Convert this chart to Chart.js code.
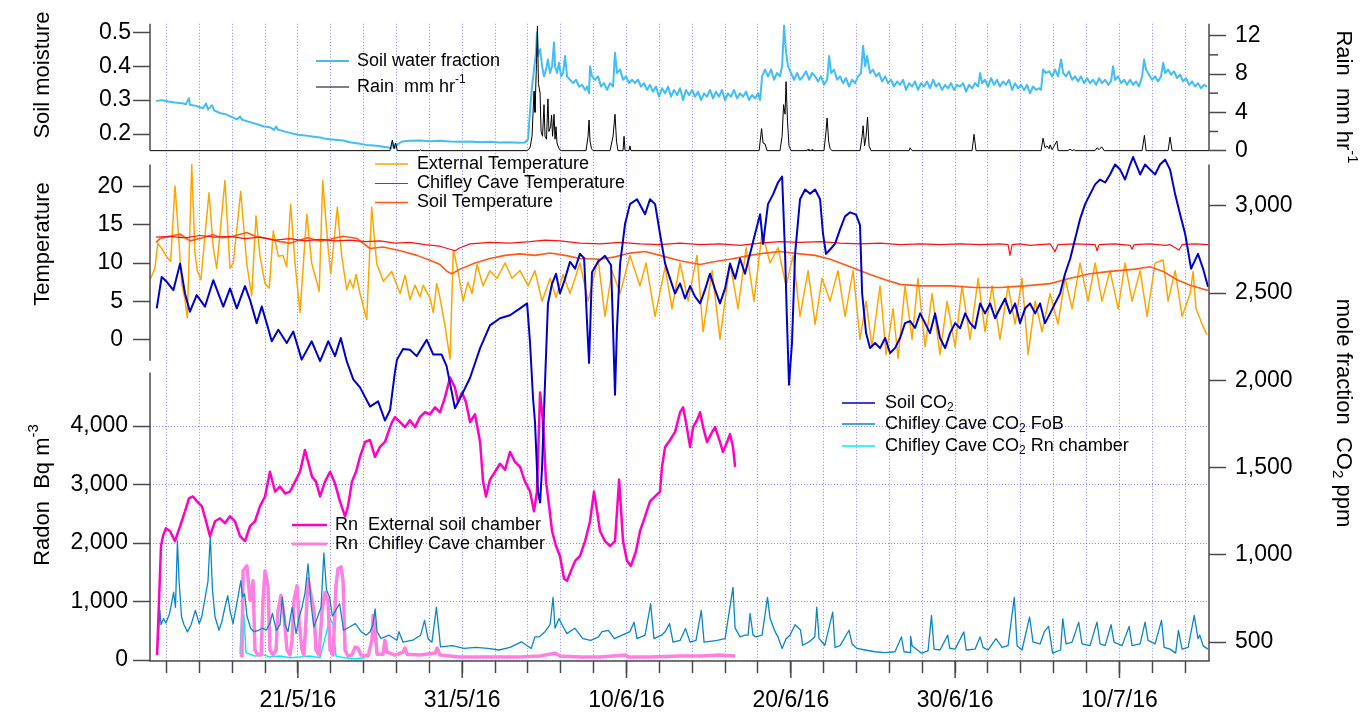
<!DOCTYPE html>
<html>
<head>
<meta charset="utf-8">
<script src="https://cdn.jsdelivr.net/npm/chart.js@4.4.0/dist/chart.umd.min.js"></script>
<style>
  html, body { margin: 0; padding: 0; background: #fff; }
  #wrap { width: 1372px; height: 715px; position: relative; }
</style>
</head>
<body>
<div id="wrap"><canvas id="c" width="1372" height="715"></canvas></div>
<script>
// ---- time base: x values are days since 12/5/16 00:00 ----
const startDate = [2016, 4, 12];
const labelDays = [9, 19, 29, 39, 49, 59];          // 21/5, 31/5, 10/6, 20/6, 30/6, 10/7
const xRange = [0, 64.45];

// ---- tick values ----
const soilTicks = [0.2, 0.3, 0.4, 0.5];
const rainTicks = [0, 4, 8, 12];
const rainMinorTicks = [2, 6, 10];
const tempTicks = [0, 5, 10, 15, 20];
const radonTicks = [0, 1000, 2000, 3000, 4000];
const co2Ticks = [500, 1000, 1500, 2000, 2500, 3000];

// ---- series: [day, value] ----
const soilWater = [[0.37,.297],[0.73,.300],[1.10,.296],[1.52,.293],[1.95,.291],[2.19,.288],[2.37,.306],[2.43,.286],[2.80,.283],[3.23,.276],[3.41,.290],[3.53,.272],[3.77,.285],[3.90,.270],[4.26,.262],[4.63,.258],[4.99,.250],[5.29,.243],[5.48,.252],[5.60,.242],[6.09,.235],[6.57,.228],[6.94,.222],[7.30,.220],[7.55,.212],[7.67,.222],[7.79,.213],[8.22,.207],[8.64,.202],[9.01,.198],[9.43,.196],[9.86,.193],[10.35,.190],[10.77,.185],[11.26,.183],[11.75,.181],[12.17,.176],[12.66,.172],[13.15,.168],[13.63,.166],[14.12,.163],[14.49,.160],[14.67,.158],[14.79,.172],[14.91,.160],[15.09,.170],[15.34,.178],[15.82,.180],[16.43,.181],[17.04,.179],[17.65,.180],[18.26,.178],[18.87,.177],[19.48,.178],[20.09,.176],[20.69,.177],[21.30,.175],[21.91,.176],[22.40,.174],[22.82,.175],[23.01,.185],[23.13,.27],[23.25,.34],[23.37,.39],[23.49,.44],[23.55,.50],[23.61,.43],[23.74,.45],[23.86,.40],[23.98,.37],[24.10,.39],[24.22,.42],[24.35,.38],[24.47,.40],[24.59,.47],[24.65,.40],[24.77,.38],[24.89,.41],[25.02,.37],[25.14,.38],[25.26,.43],[25.38,.37],[25.56,.36],[25.75,.35],[25.93,.36],[26.11,.34],[26.29,.345],[26.48,.33],[26.60,.34],[26.72,.32],[26.78,.40],[26.90,.37],[27.08,.36],[27.27,.37],[27.45,.34],[27.63,.35],[27.82,.33],[28.00,.35],[28.18,.34],[28.30,.44],[28.42,.38],[28.61,.39],[28.79,.36],[28.97,.37],[29.15,.35],[29.34,.36],[29.52,.35],[29.70,.36],[29.88,.34],[30.07,.35],[30.25,.33],[30.43,.345],[30.61,.325],[30.80,.34],[30.98,.31],[31.16,.335],[31.35,.32],[31.53,.34],[31.71,.31],[31.89,.33],[32.08,.315],[32.26,.335],[32.44,.30],[32.62,.33],[32.81,.315],[32.99,.33],[33.17,.31],[33.35,.325],[33.54,.30],[33.72,.32],[33.90,.31],[34.08,.33],[34.27,.305],[34.45,.325],[34.63,.31],[34.81,.33],[35.00,.30],[35.18,.32],[35.36,.31],[35.54,.33],[35.73,.305],[35.91,.32],[36.09,.31],[36.28,.325],[36.46,.30],[36.64,.315],[36.82,.305],[37.01,.32],[37.13,.30],[37.25,.37],[37.43,.39],[37.61,.37],[37.80,.39],[37.98,.36],[38.16,.38],[38.34,.37],[38.47,.40],[38.59,.52],[38.71,.44],[38.83,.40],[39.01,.38],[39.20,.36],[39.38,.38],[39.56,.36],[39.74,.37],[39.93,.385],[40.11,.36],[40.29,.38],[40.48,.37],[40.66,.355],[40.84,.37],[41.02,.345],[41.21,.36],[41.33,.43],[41.45,.38],[41.63,.39],[41.81,.36],[42.00,.37],[42.18,.35],[42.36,.365],[42.54,.34],[42.73,.36],[42.91,.35],[43.09,.37],[43.27,.38],[43.40,.46],[43.52,.40],[43.64,.43],[43.82,.38],[44.00,.39],[44.19,.37],[44.37,.38],[44.55,.355],[44.74,.37],[44.92,.35],[45.10,.36],[45.28,.34],[45.47,.355],[45.65,.345],[45.83,.36],[46.01,.33],[46.20,.35],[46.38,.34],[46.56,.355],[46.74,.33],[46.93,.35],[47.11,.34],[47.29,.355],[47.47,.335],[47.66,.36],[47.84,.34],[48.02,.35],[48.20,.33],[48.39,.345],[48.57,.335],[48.75,.35],[48.93,.33],[49.12,.345],[49.30,.34],[49.48,.35],[49.67,.325],[49.85,.345],[50.03,.335],[50.21,.35],[50.40,.34],[50.52,.38],[50.64,.35],[50.82,.36],[51.00,.34],[51.19,.365],[51.37,.345],[51.55,.36],[51.73,.34],[51.92,.355],[52.10,.345],[52.28,.36],[52.47,.33],[52.65,.35],[52.83,.335],[53.01,.345],[53.20,.33],[53.38,.345],[53.56,.32],[53.74,.34],[53.93,.33],[54.11,.335],[54.23,.33],[54.35,.39],[54.53,.38],[54.72,.385],[54.90,.37],[55.08,.39],[55.26,.37],[55.45,.42],[55.57,.38],[55.75,.37],[55.93,.385],[56.12,.36],[56.30,.37],[56.48,.355],[56.66,.37],[56.85,.35],[57.03,.365],[57.21,.35],[57.39,.36],[57.58,.345],[57.76,.365],[57.94,.35],[58.13,.36],[58.31,.345],[58.49,.355],[58.61,.40],[58.73,.36],[58.92,.37],[59.10,.35],[59.28,.36],[59.46,.345],[59.65,.36],[59.83,.345],[60.01,.355],[60.19,.34],[60.38,.37],[60.50,.42],[60.62,.39],[60.80,.375],[60.99,.36],[61.17,.37],[61.35,.355],[61.53,.37],[61.66,.41],[61.78,.38],[61.96,.39],[62.14,.375],[62.32,.385],[62.51,.365],[62.69,.375],[62.87,.355],[63.05,.365],[63.24,.345],[63.42,.355],[63.60,.34],[63.78,.35],[63.97,.335],[64.15,.345],[64.33,.34]];

const rain = [[0,0],[14.6,0],[14.75,1.1],[14.85,0.2],[14.95,0.8],[15.05,0],[16.4,0],[16.45,0.1],[16.5,0],[22.95,0],[23.13,0.3],[23.25,1.5],[23.37,6.2],[23.43,4],[23.52,9],[23.58,13.0],[23.64,7],[23.74,6.0],[23.80,2],[23.89,1.5],[23.98,4.8],[24.04,1.5],[24.13,1.2],[24.22,5.4],[24.28,2.0],[24.38,2.5],[24.44,3.7],[24.50,1.5],[24.59,3.8],[24.65,1.2],[24.71,2.5],[24.77,0.8],[24.89,0.2],[25.02,0],[26.54,0],[26.66,1.5],[26.72,3.2],[26.78,1.0],[26.87,0.2],[26.96,0],[28.0,0],[28.18,1.5],[28.30,3.8],[28.39,1.0],[28.48,0],[28.79,0],[28.85,1.5],[28.91,0],[29.15,0],[29.21,0.5],[29.27,0],[37.07,0],[37.22,2.3],[37.31,0.8],[37.43,0.7],[37.55,0],[38.34,0],[38.47,1.5],[38.56,4.8],[38.65,3.8],[38.71,7.2],[38.80,3],[38.89,0.5],[39.01,0],[40.0,0],[40.05,0.15],[40.1,0],[40.25,0],[40.29,0.12],[40.33,0],[41.02,0],[41.14,2.0],[41.21,3.4],[41.30,1.0],[41.39,0.2],[41.51,0],[43.21,0],[43.34,1.5],[43.40,2.6],[43.49,0.5],[43.58,1.5],[43.67,3.5],[43.76,0.5],[43.88,0],[46.20,0],[46.26,0.3],[46.38,0],[50.03,0],[50.15,1.7],[50.27,0],[54.23,0],[54.35,1.3],[54.47,0.3],[54.59,0.5],[54.72,0.2],[54.78,0.6],[54.90,0.1],[55.19,1.0],[55.27,0],[55.87,0],[55.99,0.15],[56.12,0],[56.24,0.1],[56.3,0],[57.52,0],[57.64,0.3],[57.76,0.1],[57.92,0.4],[58.07,0],[60.38,0],[60.52,1.6],[60.62,0],[61.96,0],[62.08,1.4],[62.20,0],[64.45,0]];

const extTemp = [[0,7.8],[0.30,9.3],[0.47,12.6],[0.71,11.9],[1.02,10.8],[1.26,10.2],[1.52,20.1],[1.72,14.2],[1.93,7.3],[2.13,5.2],[2.27,2.8],[2.54,22.9],[2.74,11.2],[2.88,9.0],[3.10,7.8],[3.59,19.2],[3.85,12.0],[4.06,9.3],[4.56,20.8],[4.87,9.3],[5.07,10.0],[5.52,19.4],[5.89,9.9],[6.19,5.7],[6.45,16.2],[6.70,10.8],[7.00,7.3],[7.26,6.7],[7.50,14.2],[7.81,10.9],[8.09,11.0],[8.32,9.5],[8.56,17.7],[8.83,9.9],[9.13,3.5],[9.54,16.4],[9.84,10.0],[10.30,6.3],[10.51,20.8],[10.85,11.7],[11.00,8.6],[11.40,17.3],[11.67,10.9],[11.97,6.5],[12.17,7.8],[12.37,6.7],[12.54,8.5],[12.78,6.0],[13.19,2.6],[13.49,17.3],[13.80,9.9],[14.20,7.6],[14.71,8.9],[15.22,6.0],[15.52,8.4],[15.82,5.2],[16.13,7.1],[16.43,5.6],[16.63,7.1],[17.04,5.4],[17.24,3.5],[17.45,7.3],[17.65,5.4],[17.95,1.8],[18.26,-2.6],[18.46,11.7],[18.76,8.8],[19.05,5.0],[19.35,7.5],[19.60,6.0],[19.90,9.8],[20.27,7.0],[20.69,9.0],[21.12,8.0],[21.61,10.0],[22.03,8.0],[22.52,9.0],[23.01,7.0],[23.43,9.0],[23.86,5.0],[24.35,8.0],[24.71,5.5],[25.14,8.5],[25.56,6.0],[26.17,10.0],[26.66,5.0],[27.27,10.5],[27.69,3.0],[28.12,9.0],[28.61,6.0],[29.21,11.0],[29.82,7.0],[30.19,10.0],[30.74,3.0],[31.35,9.5],[31.77,4.0],[32.26,10.0],[32.75,5.0],[33.29,11.0],[33.66,1.0],[34.21,9.0],[34.69,0.0],[35.30,10.0],[35.79,4.0],[36.28,12.0],[36.76,5.0],[37.25,14.0],[37.74,10.0],[38.22,12.0],[38.71,7.0],[39.14,11.0],[39.56,3.0],[40.05,9.0],[40.48,2.0],[40.90,8.0],[41.39,5.0],[41.87,9.0],[42.30,3.0],[42.79,9.0],[43.21,0.0],[43.58,5.0],[43.94,-1.0],[44.43,7.0],[44.80,-2.0],[45.22,4.0],[45.53,-2.5],[45.95,7.0],[46.38,0.0],[46.74,8.0],[47.17,-1.0],[47.60,6.0],[48.08,-2.0],[48.51,5.0],[49.00,-1.0],[49.42,7.0],[49.91,0.0],[50.40,8.0],[50.82,1.0],[51.25,7.0],[51.73,0.0],[52.22,7.0],[52.65,2.0],[53.07,8.0],[53.44,-2.0],[53.87,5.0],[54.29,1.0],[54.78,6.0],[55.26,2.0],[55.69,8.0],[56.12,4.0],[56.60,10.0],[57.09,5.0],[57.52,10.0],[57.94,5.0],[58.43,9.0],[58.92,4.0],[59.34,10.0],[59.77,5.0],[60.26,9.0],[60.68,3.0],[61.17,10.0],[61.66,10.4],[61.96,5.0],[62.39,9.0],[62.81,3.0],[63.30,6.0],[63.48,8.9],[63.66,4.0],[64.03,2.0],[64.33,0.6]];

const caveTemp = [[0.37,13.4],[1.22,13.5],[2.13,13.3],[3.04,13.6],[3.96,13.4],[4.87,13.5],[5.78,13.2],[6.69,13.4],[7.61,13.0],[8.52,13.2],[9.43,12.9],[10.35,13.1],[11.26,12.9],[12.17,13.0],[13.09,12.8],[14.00,12.9],[14.91,12.6],[15.82,12.7],[16.74,12.4],[17.65,12.2],[18.26,11.8],[18.56,11.6],[18.87,12.0],[19.48,12.5],[20.69,12.7],[21.91,12.6],[23.13,12.8],[24.04,13.0],[24.95,12.9],[26.17,12.6],[27.39,12.5],[28.61,12.7],[29.82,12.5],[31.04,12.4],[32.26,12.6],[33.48,12.4],[34.69,12.5],[35.91,12.3],[37.13,12.6],[38.34,12.8],[39.56,12.7],[40.78,12.8],[42.00,12.6],[43.21,12.5],[44.43,12.6],[45.65,12.4],[46.87,12.5],[48.08,12.4],[49.30,12.5],[50.52,12.4],[51.73,12.5],[52.22,12.4],[52.34,11.0],[52.47,12.4],[52.95,12.5],[53.56,12.3],[54.78,12.5],[55.08,11.5],[55.26,12.4],[56.30,12.5],[57.52,12.4],[57.64,11.6],[57.76,12.4],[58.73,12.5],[59.65,12.3],[59.77,11.8],[59.89,12.4],[60.86,12.5],[61.78,12.3],[62.08,12.4],[62.63,11.7],[62.81,12.4],[63.60,12.5],[64.39,12.4]];

const soilTemp = [[0.37,12.7],[0.61,13.2],[1.03,13.4],[1.83,13.8],[2.43,12.9],[3.04,13.2],[3.83,13.7],[4.38,13.3],[4.87,13.4],[5.90,14.0],[6.39,13.5],[7.12,13.2],[7.91,12.8],[8.52,12.6],[9.56,13.3],[10.35,12.9],[10.96,13.1],[11.75,13.5],[12.60,13.2],[13.39,11.9],[14.18,12.1],[15.22,11.6],[16.25,11.0],[17.22,10.2],[17.65,9.8],[18.08,8.9],[18.38,8.6],[18.87,9.2],[19.78,10.0],[20.69,10.6],[21.61,11.0],[22.52,11.2],[23.43,11.0],[24.35,11.3],[25.26,11.0],[26.17,10.6],[27.39,10.5],[28.30,10.8],[29.21,11.3],[30.13,11.5],[31.04,11.0],[32.26,10.3],[33.48,9.8],[34.39,10.2],[35.30,10.5],[36.52,11.0],[37.43,11.3],[38.34,11.5],[39.56,11.2],[40.48,11.0],[41.39,10.5],[42.61,9.5],[43.82,8.5],[44.74,7.8],[45.65,7.2],[46.87,7.0],[48.69,7.0],[50.21,6.8],[51.73,6.8],[53.26,7.0],[54.78,7.3],[56.00,8.0],[57.21,8.6],[58.43,8.9],[59.95,9.2],[60.86,9.5],[61.66,8.9],[62.51,7.8],[63.30,7.1],[64.39,6.4]];

const soilCO2 = [[0.41,2413],[0.71,2593],[1.02,2565],[1.42,2517],[1.83,2669],[2.13,2498],[2.43,2394],[2.84,2489],[3.35,2423],[3.85,2574],[4.46,2423],[4.87,2527],[5.28,2413],[5.78,2540],[6.09,2460],[6.49,2328],[6.80,2423],[7.10,2328],[7.41,2224],[7.81,2290],[8.32,2214],[8.72,2280],[9.23,2119],[9.84,2224],[10.35,2110],[10.85,2224],[11.26,2139],[11.61,2243],[11.97,2110],[12.37,2006],[12.78,1960],[13.39,1850],[13.88,1880],[14.30,1770],[14.61,1830],[14.91,2050],[15.03,2119],[15.40,2180],[15.82,2176],[16.23,2139],[16.84,2233],[17.24,2148],[17.75,2148],[18.05,2082],[18.56,1840],[18.99,1920],[19.48,2015],[20.09,2185],[20.69,2315],[21.30,2356],[21.91,2373],[22.52,2413],[22.95,2441],[23.13,2214],[23.31,1900],[23.43,1761],[23.61,1362],[23.74,1300],[23.86,1500],[24.04,1986],[24.22,2441],[24.47,2555],[24.71,2611],[24.95,2498],[25.26,2583],[25.56,2680],[25.87,2640],[26.17,2725],[26.42,2700],[26.60,2328],[26.72,2100],[26.90,2620],[27.27,2680],[27.69,2714],[28.06,2660],[28.18,2300],[28.30,1918],[28.42,2300],[28.61,2669],[28.91,2896],[29.21,3010],[29.64,3038],[30.13,2952],[30.43,3038],[30.74,3010],[31.04,2839],[31.35,2669],[31.65,2583],[31.95,2498],[32.26,2555],[32.56,2469],[32.87,2540],[33.17,2480],[33.48,2441],[33.78,2520],[34.08,2611],[34.39,2520],[34.69,2441],[35.00,2527],[35.30,2669],[35.61,2583],[35.91,2697],[36.21,2611],[36.52,2725],[36.82,2839],[37.13,2952],[37.31,2782],[37.61,3010],[37.92,3066],[38.22,3134],[38.47,3168],[38.65,2725],[38.77,2328],[38.89,1975],[39.07,2214],[39.26,2725],[39.56,3038],[39.87,3094],[40.17,3070],[40.48,3094],[40.78,3038],[40.96,2839],[41.14,2725],[41.39,2750],[41.69,2782],[42.00,2867],[42.30,2940],[42.61,2963],[42.97,2950],[43.21,2890],[43.34,2498],[43.58,2271],[43.82,2185],[44.13,2214],[44.43,2185],[44.74,2243],[45.04,2157],[45.34,2185],[45.65,2243],[45.95,2328],[46.26,2340],[46.56,2300],[46.87,2384],[47.17,2328],[47.47,2271],[47.78,2384],[48.08,2243],[48.39,2185],[48.69,2271],[49.00,2328],[49.30,2299],[49.61,2384],[49.91,2328],[50.21,2299],[50.52,2441],[50.82,2384],[51.13,2441],[51.43,2356],[51.73,2413],[52.04,2469],[52.34,2384],[52.65,2441],[52.95,2328],[53.26,2413],[53.56,2441],[53.87,2384],[54.17,2441],[54.47,2328],[54.78,2384],[55.08,2441],[55.39,2498],[55.69,2611],[56.00,2697],[56.30,2810],[56.60,2924],[56.91,3010],[57.21,3066],[57.52,3123],[57.82,3151],[58.13,3134],[58.43,3180],[58.73,3237],[59.04,3208],[59.34,3151],[59.65,3237],[59.83,3280],[60.26,3180],[60.56,3237],[60.86,3208],[61.17,3180],[61.47,3237],[61.78,3265],[62.08,3208],[62.39,3066],[62.69,2952],[63.00,2839],[63.36,2640],[63.78,2725],[64.09,2640],[64.39,2537]];

const caveCO2FoB = [[0.43,430],[0.49,511],[0.60,682],[0.67,600],[0.83,635],[0.97,610],[1.19,663],[1.44,786],[1.55,700],[1.67,1080],[1.77,850],[1.92,644],[2.07,600],[2.28,559],[2.50,600],[2.76,682],[3.00,606],[3.16,650],[3.36,757],[3.53,850],[3.67,1108],[3.80,800],[3.96,644],[4.20,568],[4.38,620],[4.56,700],[4.73,767],[4.87,680],[5.05,606],[5.28,720],[5.53,852],[5.63,760],[5.76,777],[5.90,650],[6.13,578],[6.33,560],[6.61,568],[6.82,580],[7.09,570],[7.30,610],[7.45,665],[7.69,568],[7.91,600],[8.05,757],[8.22,600],[8.40,560],[8.65,700],[8.89,549],[9.07,640],[9.25,700],[9.43,780],[9.62,949],[9.80,720],[9.97,587],[10.22,650],[10.41,700],[10.58,1011],[10.74,800],[10.93,757],[11.10,650],[11.30,682],[11.54,720],[11.78,568],[12.14,587],[12.50,606],[12.86,559],[13.15,540],[13.39,560],[13.57,600],[13.70,691],[13.82,560],[14.06,521],[14.55,540],[15.03,511],[15.15,560],[15.40,500],[15.99,511],[16.47,540],[16.71,625],[16.92,520],[17.16,500],[17.43,700],[17.68,473],[18.40,480],[19.11,464],[19.84,470],[20.56,464],[21.24,455],[21.91,470],[22.60,502],[23.20,464],[23.43,530],[23.68,530],[24.04,560],[24.35,600],[24.53,757],[24.65,580],[24.89,635],[25.08,600],[25.37,549],[25.85,580],[26.34,520],[26.82,510],[27.30,530],[27.51,560],[27.90,568],[28.26,520],[28.74,540],[29.21,560],[29.46,615],[29.64,520],[30.13,540],[30.47,720],[30.67,520],[31.14,540],[31.35,560],[31.62,606],[31.83,500],[32.26,510],[32.59,578],[32.87,500],[33.23,510],[33.55,682],[33.72,500],[34.08,505],[34.51,510],[35.00,520],[35.48,814],[35.61,580],[35.91,530],[36.20,540],[36.40,540],[36.52,665],[36.70,540],[36.88,530],[37.25,540],[37.58,757],[37.74,635],[38.04,560],[38.22,530],[38.47,464],[38.71,520],[38.95,540],[39.26,600],[39.59,570],[39.72,482],[40.08,500],[40.46,530],[40.58,700],[40.72,520],[41.07,482],[41.55,672],[41.69,470],[42.00,480],[42.54,568],[42.73,490],[43.03,464],[43.52,455],[44.13,445],[44.74,440],[45.34,445],[45.73,530],[45.89,445],[46.26,440],[46.29,535],[46.38,480],[46.96,437],[47.35,450],[47.56,653],[47.72,460],[48.08,455],[48.55,540],[48.67,465],[49.00,460],[49.53,559],[49.67,455],[50.21,460],[50.52,530],[50.70,470],[51.00,455],[51.49,520],[51.86,470],[52.22,480],[52.60,757],[52.77,480],[53.07,455],[53.53,644],[53.74,500],[54.17,490],[54.43,560],[54.69,590],[54.93,437],[55.42,455],[55.55,635],[55.75,490],[56.12,500],[56.52,615],[56.72,490],[57.21,480],[57.63,615],[57.82,490],[58.13,480],[58.49,600],[58.67,500],[59.16,480],[59.59,590],[59.77,480],[60.26,490],[60.56,615],[60.74,510],[61.17,490],[61.56,625],[61.72,470],[62.08,460],[62.42,437],[62.59,568],[62.81,460],[63.18,470],[63.55,653],[63.78,520],[63.89,540],[64.09,480],[64.38,460]];

const caveCO2Rn = [[5.48,430],[5.60,700],[5.72,650],[5.84,440],[6.39,420],[6.82,430],[7.30,415],[7.91,420],[8.52,410],[9.13,415],[9.74,420],[10.35,410],[10.96,640],[11.14,600],[11.32,420],[11.87,410],[12.48,405],[13.09,410]];

const rnCave = [[5.48,85],[5.60,68],[5.66,1525],[5.90,1610],[6.09,1017],[6.27,1356],[6.39,170],[6.57,85],[6.76,85],[6.88,1017],[7.00,1525],[7.18,1271],[7.30,170],[7.49,85],[7.67,170],[7.79,847],[7.97,1102],[8.16,763],[8.34,170],[8.52,85],[8.64,339],[8.76,1017],[8.95,1271],[9.07,678],[9.25,170],[9.37,85],[9.49,678],[9.62,1390],[9.80,1102],[9.98,847],[10.10,170],[10.29,85],[10.47,847],[10.65,1153],[10.83,1017],[10.96,170],[11.14,85],[11.32,1271],[11.44,1559],[11.63,1593],[11.75,1356],[11.87,170],[12.05,68],[12.29,85],[12.48,220],[12.66,203],[12.84,85],[13.27,68],[13.51,339],[13.58,762],[13.69,508],[13.82,100],[14.18,100],[14.30,339],[14.42,135],[14.91,85],[15.40,135],[15.52,203],[15.64,100],[16.43,85],[17.35,118],[17.47,203],[17.65,85],[18.87,51],[20.09,51],[21.30,51],[22.52,51],[23.74,68],[24.65,118],[24.95,68],[26.17,51],[27.39,51],[28.97,85],[29.09,51],[30.43,51],[32.26,68],[33.48,68],[34.69,85],[35.61,68]];

const rnExt = [[0.43,85],[0.55,1017],[0.67,1949],[0.79,2119],[0.97,2254],[1.22,2203],[1.52,2034],[1.83,2288],[2.13,2542],[2.37,2763],[2.62,2797],[2.86,2712],[3.16,2627],[3.41,2373],[3.65,2119],[3.96,2373],[4.26,2424],[4.56,2339],[4.87,2458],[5.17,2373],[5.48,2119],[5.78,2034],[6.09,2288],[6.39,2373],[6.69,2627],[7.00,2797],[7.30,3220],[7.61,2881],[7.91,2966],[8.22,2847],[8.52,2881],[8.83,3051],[9.13,3220],[9.43,3593],[9.62,3390],[9.86,3136],[10.10,3051],[10.35,2797],[10.65,3051],[10.96,3220],[11.26,3017],[11.56,2712],[11.87,2458],[12.05,2627],[12.29,3051],[12.54,3220],[12.78,3475],[13.09,3729],[13.39,3763],[13.69,3475],[14.00,3644],[14.30,3729],[14.61,3983],[14.73,4068],[14.91,4153],[15.22,4068],[15.52,3983],[15.82,4102],[16.13,3983],[16.43,4153],[16.74,4237],[17.04,4203],[17.35,4322],[17.65,4237],[17.95,4492],[18.26,4831],[18.56,4661],[18.75,4407],[18.99,4576],[19.23,4407],[19.48,4068],[19.78,4203],[20.09,3729],[20.27,3051],[20.45,2797],[20.69,3085],[21.00,3220],[21.30,3356],[21.61,3254],[21.91,3559],[22.21,3390],[22.52,3305],[22.82,3051],[23.13,2881],[23.37,2542],[23.55,2881],[23.74,4576],[23.92,4068],[24.10,3051],[24.22,2797],[24.47,2203],[24.71,1949],[24.95,1780],[25.20,1390],[25.38,1356],[25.62,1525],[25.87,1695],[26.17,1780],[26.48,2034],[26.78,2373],[27.02,2881],[27.21,2542],[27.39,2203],[27.69,2034],[28.00,1949],[28.30,2034],[28.55,3085],[28.79,2034],[29.03,1695],[29.27,1610],[29.58,1864],[29.82,2203],[30.13,2458],[30.43,2712],[30.74,2797],[31.04,2881],[31.16,3305],[31.35,3644],[31.65,3763],[31.95,3898],[32.26,4237],[32.44,4322],[32.62,4068],[32.87,3644],[33.05,3983],[33.29,4102],[33.48,4237],[33.66,3983],[33.90,3729],[34.21,3898],[34.39,3983],[34.69,3729],[34.87,3559],[35.12,3729],[35.30,3864],[35.48,3644],[35.61,3305]];

// ---- layout of the three stacked panels (pixels from top of plot area, plot height 643) ----
const PLOT_H = 643;
const span = { soil: [0, 128], rain: [0, 128], temp: [142, 340], radon: [352, 643], co2: [142, 643] };
const extent = { soil: [0.151, 0.525], rain: [0, 13.24], temp: [-2.8, 22.9], radon: [-17, 4915], co2: [392, 3237] };
function range(key) {
  const [lo, hi] = extent[key], [p0, p1] = span[key];
  const k = (hi - lo) / (p1 - p0);
  return { min: lo - (PLOT_H - p1) * k, max: hi + p0 * k };
}

const FONT = '"Liberation Sans", Arial, Helvetica, sans-serif';
const AXIS = '#4a4a4a';
const GRID = 'rgba(95,95,255,0.75)';
const TICK_SIZE = 23;

function yAxis(key, position, ticks, fmt, o) {
  const r = range(key);
  return {
    type: 'linear', position, min: r.min, max: r.max, weight: o.weight,
    afterBuildTicks: s => { s.ticks = ticks.map(v => ({ value: v })); },
    afterFit: s => { s.width = o.width; },
    border: { display: false, dash: [1, 2] },
    grid: { drawOnChartArea: !!o.grid, color: GRID, lineWidth: 1, drawTicks: true, tickLength: 17,
            tickColor: AXIS, tickWidth: 1.5, tickBorderDash: [] },
    ticks: { color: '#000', font: { family: FONT, size: TICK_SIZE }, padding: o.pad, autoSkip: false,
             maxRotation: 0, callback: fmt }
  };
}
const thousands = v => v.toLocaleString('en-US');

function pts(a) { return a.map(([x, y]) => ({ x, y })); }
function line(label, data, yAxisID, color, width, order) {
  return { label, data: pts(data), yAxisID, xAxisID: 'x', borderColor: color, backgroundColor: color,
           borderWidth: width, pointRadius: 0, tension: 0, fill: false, order, borderJoinStyle: 'round' };
}

const C = {
  soilWater: '#42BDF8', rain: '#000000', ext: '#FFA500', cave: '#FF1010', soilT: '#FF5A1A',
  soilCO2: '#0000CC', fob: '#0A86C6', rnCO2: '#00F0F0', rnExt: '#FF00C4', rnCave: '#FF80E0'
};

function dateLabel(day) {
  const d = new Date(startDate[0], startDate[1], startDate[2] + day);
  return d.getDate() + '/' + (d.getMonth() + 1) + '/' + String(d.getFullYear()).slice(2);
}
const xTickDays = [];
for (let d = 1; d < xRange[1]; d += 2) xTickDays.push(d);

// rich text: runs of [text, size, dy]
function runsWidth(ctx, runs) {
  let w = 0;
  runs.forEach(r => { ctx.font = r[1] + 'px ' + FONT; w += ctx.measureText(r[0]).width; });
  return w;
}
function drawRuns(ctx, runs, x, y) {
  let cx = x;
  runs.forEach(r => {
    ctx.font = r[1] + 'px ' + FONT;
    ctx.fillText(r[0], cx, y + (r[2] || 0));
    cx += ctx.measureText(r[0]).width;
  });
}

const titles = [
  { x: 43, y: 75, rot: -1, runs: [['Soil moisture', 22]] },
  { x: 43, y: 244, rot: -1, runs: [['Temperature', 22]] },
  { x: 43, y: 495, rot: -1, runs: [['Radon  Bq m', 22], ['-3', 15, -9]] },
  { x: 1343, y: 97, rot: 1, runs: [['Rain  mm hr', 22], ['-1', 15, -9]] },
  { x: 1343, y: 413, rot: 1, runs: [['mole fraction  CO', 22], ['2', 15, 6], [' ppm', 22]] }
];

const legends = [
  { x0: 316, x1: 349, tx: 357, items: [
    { y: 61, c: C.soilWater, w: 2, runs: [['Soil water fraction', 18]] },
    { y: 87, c: C.rain, w: 1, runs: [['Rain  mm hr', 18], ['-1', 12, -7]] } ] },
  { x0: 375, x1: 408, tx: 417, items: [
    { y: 164, c: C.ext, w: 1.5, runs: [['External Temperature', 18]] },
    { y: 183.5, c: C.cave, w: 1.2, runs: [['Chifley Cave Temperature', 18]] },
    { y: 202.5, c: C.soilT, w: 1.5, runs: [['Soil Temperature', 18]] } ] },
  { x0: 842, x1: 875, tx: 885, items: [
    { y: 403, c: C.soilCO2, w: 1.5, runs: [['Soil CO', 18], ['2', 12, 5]] },
    { y: 424, c: C.fob, w: 1.5, runs: [['Chifley Cave CO', 18], ['2', 12, 5], [' FoB', 18]] },
    { y: 446, c: C.rnCO2, w: 1.5, runs: [['Chifley Cave CO', 18], ['2', 12, 5], [' Rn chamber', 18]] } ] },
  { x0: 292, x1: 327, tx: 335, items: [
    { y: 525, c: C.rnExt, w: 2.5, runs: [['Rn  External soil chamber', 18]] },
    { y: 544, c: C.rnCave, w: 3, runs: [['Rn  Chifley Cave chamber', 18]] } ] }
];

const decor = {
  id: 'decor',
  // the inner axes take no layout space; give them the outer margin for their labels
  afterLayout(chart) {
    const a = chart.chartArea, s = chart.scales;
    ['yTemp', 'yRn'].forEach(id => { s[id].left = 0; s[id].right = a.left; s[id].width = a.left; });
    s.yCO2.left = a.right; s.yCO2.right = chart.width; s.yCO2.width = chart.width - a.right;
  },
  afterDraw(chart) {
    const { ctx, chartArea: a, scales: s } = chart;
    ctx.save();
    ctx.strokeStyle = AXIS; ctx.lineWidth = 1.5; ctx.lineCap = 'butt';
    const seg = (x1, y1, x2, y2) => { ctx.beginPath(); ctx.moveTo(x1, y1); ctx.lineTo(x2, y2); ctx.stroke(); };
    const spine = (x, sc, key) => seg(x, sc.getPixelForValue(extent[key][1]), x, sc.getPixelForValue(extent[key][0]));
    spine(a.left, s.ySoil, 'soil');
    spine(a.left, s.yTemp, 'temp');
    spine(a.left, s.yRn, 'radon');
    spine(a.right, s.yRain, 'rain');
    spine(a.right, s.yCO2, 'co2');
    seg(a.left - 0.75, a.bottom, a.right + 0.75, a.bottom);
    labelDays.forEach(d => { const x = s.x.getPixelForValue(d); seg(x, a.bottom, x, a.bottom + 17); });
    rainMinorTicks.forEach(v => { const y = s.yRain.getPixelForValue(v); seg(a.right, y, a.right + 9, y); });

    ctx.fillStyle = '#000'; ctx.textBaseline = 'middle'; ctx.textAlign = 'left';
    titles.forEach(t => {
      ctx.save();
      ctx.translate(t.x, t.y);
      ctx.rotate(t.rot * Math.PI / 2);
      drawRuns(ctx, t.runs, -runsWidth(ctx, t.runs) / 2, 0);
      ctx.restore();
    });
    legends.forEach(g => g.items.forEach(it => {
      ctx.strokeStyle = it.c; ctx.lineWidth = it.w;
      seg(g.x0, it.y, g.x1, it.y);
      drawRuns(ctx, it.runs, g.tx, it.y);
    }));
    ctx.restore();
  }
};

new Chart(document.getElementById('c'), {
  type: 'line',
  data: {
    datasets: [
      line('Soil water fraction', soilWater, 'ySoil', C.soilWater, 2, 2),
      line('Rain  mm hr-1', rain, 'yRain', C.rain, 1, 1),
      line('External Temperature', extTemp, 'yTemp', C.ext, 1.5, 6),
      line('Chifley Cave Temperature', caveTemp, 'yTemp', C.cave, 1.2, 4),
      line('Soil Temperature', soilTemp, 'yTemp', C.soilT, 1.6, 5),
      line('Soil CO2', soilCO2, 'yCO2', C.soilCO2, 2, 1),
      line('Chifley Cave CO2 FoB', caveCO2FoB, 'yCO2', C.fob, 1.3, 3),
      line('Chifley Cave CO2 Rn chamber', caveCO2Rn, 'yCO2', C.rnCO2, 1.5, 8),
      line('Rn  External soil chamber', rnExt, 'yRn', C.rnExt, 2.5, 2),
      line('Rn  Chifley Cave chamber', rnCave, 'yRn', C.rnCave, 3.5, 7)
    ]
  },
  options: {
    responsive: false, animation: false, devicePixelRatio: 1, events: [],
    layout: { padding: { top: 18, left: 0, right: 0, bottom: 0 } },
    plugins: { legend: { display: false }, tooltip: { enabled: false } },
    scales: {
      x: {
        type: 'linear', position: 'bottom', min: xRange[0], max: xRange[1],
        afterBuildTicks: s => { s.ticks = xTickDays.map(v => ({ value: v })); },
        afterFit: s => { s.height = 54; },
        border: { display: false, dash: [1, 2] },
        grid: { color: GRID, lineWidth: 1, drawTicks: true, tickLength: 12, tickColor: AXIS, tickWidth: 1.5, tickBorderDash: [] },
        ticks: { color: '#000', font: { family: FONT, size: TICK_SIZE }, padding: 14, autoSkip: false, maxRotation: 0, minRotation: 0,
                 callback: v => labelDays.includes(v) ? dateLabel(v) : '' }
      },
      ySoil: yAxis('soil', 'left', soilTicks, v => v.toFixed(1), { width: 150, weight: 2, pad: 2 }),
      yTemp: yAxis('temp', 'left', tempTicks, v => String(v), { width: 0, weight: 1, pad: 10 }),
      yRn: yAxis('radon', 'left', radonTicks, thousands, { width: 0, weight: 0, pad: 5, grid: true }),
      yCO2: yAxis('co2', 'right', co2Ticks, thousands, { width: 0, weight: 0, pad: 9 }),
      yRain: yAxis('rain', 'right', rainTicks, v => String(v), { width: 163, weight: 2, pad: 9 })
    }
  },
  plugins: [decor]
});
</script>
</body>
</html>
